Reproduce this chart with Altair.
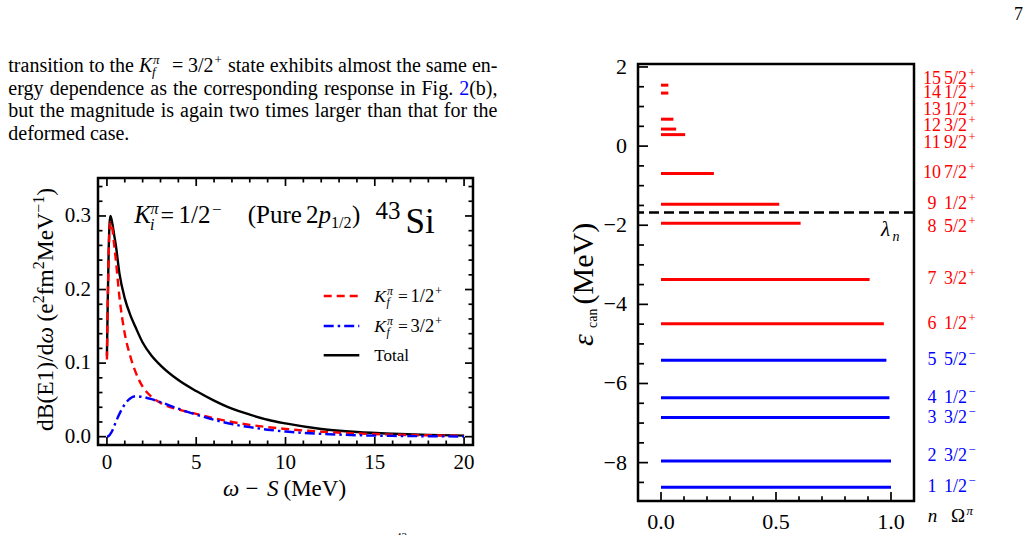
import altair as alt
import pandas as pd

SERIF = "Liberation Serif"
RED, BLUE, BLACK = "#ff0000", "#0000ff", "#000000"

# ---------------- E1 strength distribution, 43Si (left panel) ----------------
omega = [0, 0.05, 0.1, 0.15, 0.2, 0.3, 0.4, 0.5, 0.7, 1.0, 1.3, 1.6, 2.0, 2.5,
         3.0, 4.0, 5.0, 6.0, 7.0, 8.0, 9.0, 10, 12, 14, 16, 18, 20]
db_total = [0.110, 0.190, 0.255, 0.290, 0.300, 0.290, 0.275, 0.260, 0.222, 0.188,
            0.166, 0.149, 0.128, 0.110, 0.097, 0.077, 0.062, 0.049, 0.038, 0.030,
            0.023, 0.018, 0.0105, 0.0064, 0.0040, 0.0024, 0.0015]
db_half_plus = [0.105, 0.185, 0.250, 0.283, 0.292, 0.283, 0.262, 0.240, 0.190, 0.140,
                0.110, 0.088, 0.068, 0.054, 0.046, 0.037, 0.031, 0.025, 0.020, 0.016,
                0.013, 0.0105, 0.0068, 0.0044, 0.0028, 0.0018, 0.0012]
db_three_half_plus = [0.0, 0.0003, 0.001, 0.0022, 0.004, 0.008, 0.014, 0.020, 0.031, 0.044,
                      0.052, 0.055, 0.054, 0.051, 0.047, 0.038, 0.030, 0.023, 0.017, 0.013,
                      0.0095, 0.007, 0.0038, 0.0020, 0.0011, 0.0006, 0.0003]

# ---------------- canonical single-particle levels (right panel) ----------------
level_n = list(range(1, 16))
level_omega = ["1/2", "3/2", "3/2", "1/2", "5/2", "1/2", "3/2", "5/2",
               "1/2", "7/2", "9/2", "3/2", "1/2", "1/2", "5/2"]
level_parity = ["-", "-", "-", "-", "-", "+", "+", "+", "+", "+", "+", "+", "+", "+", "+"]
level_energy = [-8.62, -7.96, -6.86, -6.36, -5.41, -4.49, -3.37, -1.95,
                -1.47, -0.69, 0.29, 0.43, 0.68, 1.34, 1.54]
level_occupation = [1.0, 1.0, 0.994, 0.993, 0.98, 0.969, 0.907, 0.607,
                    0.514, 0.23, 0.105, 0.066, 0.054, 0.032, 0.032]
fermi_energy = -1.68
# label shifts (MeV) that keep crowded level labels apart
label_nudge = [0, 0.12, 0, 0, 0, 0, 0, -0.10, 0, 0, -0.22, 0.07, 0.22, 0, 0.15]

# ---------------- tick values and labels ----------------
lx_ticks = [0, 5, 10, 15, 20]
lx_labels = ["0", "5", "10", "15", "20"]
ly_ticks = [0.0, 0.1, 0.2, 0.3]
ly_labels = ["0.0", "0.1", "0.2", "0.3"]
rx_ticks = [0.0, 0.5, 1.0]
rx_labels = ["0.0", "0.5", "1.0"]
ry_ticks = [-8, -6, -4, -2, 0, 2]
ry_labels = ["\u22128", "\u22126", "\u22124", "\u22122", "0", "2"]

# ---------------- geometry ----------------
L_W, L_H, L_TOP = 375, 381, 114          # left view; its frame starts L_TOP px down
R_W, R_H = 276, 437
L_XDOM, L_YDOM = [-0.5, 20.5], [-0.0113, 0.3516]
R_XDOM, R_YDOM = [-0.1, 1.1], [-8.97, 2.075]

lx = alt.Scale(domain=L_XDOM, nice=False, zero=False)
ly = alt.Scale(domain=L_YDOM, nice=False, zero=False, range=[L_H, L_TOP])
rx = alt.Scale(domain=R_XDOM, nice=False, zero=False)
ry = alt.Scale(domain=R_YDOM, nice=False, zero=False)

# ---------------- text helpers ----------------
ROMAN_W = {' ': 250, '(': 333, ')': 333, ',': 250, '-': 333, '.': 250, '/': 278,
           '=': 564, '+': 564, '\u2212': 564, 'ω': 686, 'π': 549, 'λ': 549,
           'ε': 439, 'Ω': 768,
           'A': 722, 'B': 667, 'C': 667, 'D': 722, 'E': 611, 'F': 556, 'G': 722,
           'H': 722, 'I': 333, 'J': 389, 'K': 722, 'L': 611, 'M': 889, 'N': 722,
           'O': 722, 'P': 556, 'Q': 722, 'R': 667, 'S': 556, 'T': 611, 'U': 722,
           'V': 722, 'W': 944, 'X': 722, 'Y': 722, 'Z': 611,
           'a': 444, 'b': 500, 'c': 444, 'd': 500, 'e': 444, 'f': 333, 'g': 500,
           'h': 500, 'i': 278, 'j': 278, 'k': 500, 'l': 278, 'm': 778, 'n': 500,
           'o': 500, 'p': 500, 'q': 500, 'r': 333, 's': 389, 't': 278, 'u': 500,
           'v': 500, 'w': 722, 'x': 500, 'y': 500, 'z': 444}
ITALIC_W = {'K': 667, 'S': 500, 'f': 278}


def text_width(s, size, italic=False):
    total = 0
    for ch in s:
        if italic and ch in ITALIC_W:
            total += ITALIC_W[ch]
        elif ch.isdigit():
            total += 500
        else:
            total += ROMAN_W.get(ch, 500)
    return total * size / 1000.0


def run(x, y, text, size, italic=False, color=BLACK):
    return {"x": x, "y": y, "text": text, "size": size,
            "style": "italic" if italic else "normal", "color": color}


def text_layers(rows, angle=0):
    df = pd.DataFrame(rows)
    layers = []
    for style in ("normal", "italic"):
        sub = df[df["style"] == style]
        if sub.empty:
            continue
        mark = dict(font=SERIF, fontStyle=style, align="left", baseline="alphabetic")
        if angle:
            mark["angle"] = angle
        layers.append(alt.Chart(sub).mark_text(**mark).encode(
            x=alt.X("x:Q", scale=None, axis=None),
            y=alt.Y("y:Q", scale=None, axis=None),
            text="text:N",
            size=alt.Size("size:Q", scale=None, legend=None),
            color=alt.Color("color:N", scale=None, legend=None),
        ))
    return layers


def rotated_runs(x_base, y_start, pieces):
    rows, y = [], y_start
    for text, size, italic, rise, extra in pieces:
        rows.append(run(x_base - rise, y, text, size, italic))
        y -= text_width(text, size, italic) + extra
    return rows


def x_tick_labels(values, labels, scale, y, size):
    df = pd.DataFrame({"v": values, "label": labels})
    return alt.Chart(df).mark_text(font=SERIF, fontSize=size, align="center",
                                   baseline="top", color=BLACK).encode(
        x=alt.X("v:Q", scale=scale, axis=None), y=alt.value(y), text="label:N")


def y_tick_labels(values, labels, scale, x, size):
    df = pd.DataFrame({"v": values, "label": labels})
    return alt.Chart(df).mark_text(font=SERIF, fontSize=size, align="right",
                                   baseline="middle", color=BLACK).encode(
        y=alt.Y("v:Q", scale=scale, axis=None), x=alt.value(x), text="label:N")


# ---------------- paragraph above the left panel ----------------
PARA_FS = 20
PARA_LEFT, PARA_RIGHT = -89.7, 399.5
PARA_BASE = [8.0, 30.5, 53.0, 75.7]


def plain(word, color=BLACK):
    return ([{"dx": 0, "text": word, "size": PARA_FS, "rise": 0, "italic": False, "color": color}],
            text_width(word, PARA_FS))


k_state = ([
    {"dx": 0, "text": "K", "size": PARA_FS, "rise": 0, "italic": True, "color": BLACK},
    {"dx": 14, "text": "π", "size": 13, "rise": 8, "italic": True, "color": BLACK},
    {"dx": 13, "text": "f", "size": 13, "rise": -4, "italic": True, "color": BLACK},
    {"dx": 33, "text": "=", "size": PARA_FS, "rise": 0, "italic": False, "color": BLACK},
    {"dx": 49, "text": "3/2", "size": PARA_FS, "rise": 0, "italic": False, "color": BLACK},
    {"dx": 75.5, "text": "+", "size": 13, "rise": 8, "italic": False, "color": BLACK},
], 84.0)

fig_ref = ([
    {"dx": 0, "text": "2", "size": PARA_FS, "rise": 0, "italic": False, "color": BLUE},
    {"dx": text_width("2", PARA_FS), "text": "(b),", "size": PARA_FS, "rise": 0,
     "italic": False, "color": BLACK},
], text_width("2(b),", PARA_FS))

para_lines = [
    ([plain(w) for w in ["transition", "to", "the"]] + [k_state] +
     [plain(w) for w in ["state", "exhibits", "almost", "the", "same", "en-"]], True),
    ([plain(w) for w in ["ergy", "dependence", "as", "the", "corresponding",
                         "response", "in", "Fig."]] + [fig_ref], True),
    ([plain(w) for w in ["but", "the", "magnitude", "is", "again", "two", "times",
                         "larger", "than", "that", "for", "the"]], True),
    ([plain(w) for w in ["deformed", "case."]], False),
]

left_rows = []
for (words, justify), base in zip(para_lines, PARA_BASE):
    widths = sum(w for _, w in words)
    gap = (PARA_RIGHT - PARA_LEFT - widths) / (len(words) - 1) if justify else 0.25 * PARA_FS
    x = PARA_LEFT
    for runs, w in words:
        for r in runs:
            left_rows.append(run(x + r["dx"], base - r["rise"], r["text"], r["size"],
                                 r["italic"], r["color"]))
        x += w + gap

# in-panel title, nucleus and legend labels
left_rows += [
    run(36.3, 159.3, "K", 25, True), run(52.5, 150, "π", 16, True), run(52, 166, "i", 16, True),
    run(62.5, 159.3, "=", 24), run(80.5, 159.3, "1/2", 25), run(114, 151, "\u2212", 17),
    run(149.7, 159.3, "(Pure", 25), run(208, 159.3, "2", 25), run(220.5, 159.3, "p", 25, True),
    run(233, 164, "1/2", 16), run(254, 159.3, ")", 25),
    run(277.5, 155.3, "43", 25), run(307.5, 168.7, "Si", 35),
]
LEG_Y = [232, 262, 291.3]
for yc, rhs in zip(LEG_Y[:2], ["1/2", "3/2"]):
    b = yc + 5.5
    left_rows += [run(276.3, b, "K", 17.5, True), run(289, b - 6.5, "π", 12, True),
                  run(288.5, b + 4, "f", 12, True), run(300, b, "=", 17.5),
                  run(312.5, b, rhs, 18.5), run(337, b - 6.5, "+", 12.5)]
left_rows.append(run(276.3, LEG_Y[2] + 5.5, "Total", 17))
# x-axis title
left_rows += [run(125, 432, "ω", 23, True), run(147.5, 432, "\u2212", 23),
              run(169, 432, "S", 23, True), run(185.5, 432, "(MeV)", 23)]
# caption fragment at the page bottom
left_rows.append(run(298, 476, "43", 11))

left_rot = rotated_runs(-44.7, 367, [
    ("dB(E1)/d", 23.5, False, 0, 0), ("ω", 23.5, True, 0, 5.9), ("(e", 23.5, False, 0, 0),
    ("2", 16, False, 9.5, 0), ("fm", 23.5, False, 0, 0), ("2", 16, False, 9.5, 0),
    ("MeV", 23.5, False, 0, 0), ("\u22121", 16, False, 9.5, 0), (")", 23.5, False, 0, 0)])

# ---------------- left panel layers ----------------
TICK_W = 1.7


def edge_ticks_y(values, scale, x0, x1):
    return alt.Chart(pd.DataFrame({"v": values})).mark_rule(color=BLACK, strokeWidth=TICK_W).encode(
        y=alt.Y("v:Q", scale=scale, axis=None), x=alt.value(x0), x2=alt.value(x1))


def edge_ticks_x(values, scale, y0, y1):
    return alt.Chart(pd.DataFrame({"v": values})).mark_rule(color=BLACK, strokeWidth=TICK_W).encode(
        x=alt.X("v:Q", scale=scale, axis=None), y=alt.value(y0), y2=alt.value(y1))


def frame(xdom, ydom, xscale, yscale):
    df = pd.DataFrame({"x0": [xdom[0]], "x1": [xdom[1]], "y0": [ydom[0]], "y1": [ydom[1]]})
    return alt.Chart(df).mark_rect(filled=False, color=BLACK, strokeWidth=2.5).encode(
        x=alt.X("x0:Q", scale=xscale, axis=None), x2="x1:Q",
        y=alt.Y("y0:Q", scale=yscale, axis=None), y2="y1:Q")


lx_minor = [v for v in range(1, 20) if v % 5]
ly_minor = [round(0.02 * k, 2) for k in range(1, 18) if k % 5]

curve_df = pd.DataFrame({"omega": omega, "total": db_total,
                         "half": db_half_plus, "three_half": db_three_half_plus})


def curve(col, color, dash=None):
    kw = dict(color=color, strokeWidth=2.4, interpolate="monotone")
    if dash:
        kw["strokeDash"] = dash
    return alt.Chart(curve_df).mark_line(**kw).encode(
        x=alt.X("omega:Q", scale=lx, axis=None), y=alt.Y(f"{col}:Q", scale=ly, axis=None))


DASH_RED, DASH_BLUE = [8, 5], [10, 4, 2.5, 4]


def legend_line(y, color, dash=None):
    kw = dict(color=color, strokeWidth=2.4)
    if dash:
        kw["strokeDash"] = dash
    return alt.Chart(pd.DataFrame({"k": [0]})).mark_rule(**kw).encode(
        x=alt.value(225.7), x2=alt.value(261.3), y=alt.value(y))


left_layers = [
    frame(L_XDOM, L_YDOM, lx, ly),
    edge_ticks_x(lx_ticks, lx, L_H, L_H - 8), edge_ticks_x(lx_minor, lx, L_H, L_H - 4.5),
    edge_ticks_x(lx_ticks, lx, L_TOP, L_TOP + 8), edge_ticks_x(lx_minor, lx, L_TOP, L_TOP + 4.5),
    edge_ticks_y(ly_ticks, ly, 0, 8), edge_ticks_y(ly_minor, ly, 0, 4.5),
    edge_ticks_y(ly_ticks, ly, L_W, L_W - 8), edge_ticks_y(ly_minor, ly, L_W, L_W - 4.5),
    x_tick_labels(lx_ticks, lx_labels, lx, L_H + 7, 21),
    y_tick_labels(ly_ticks, ly_labels, ly, -7, 21),
    curve("total", BLACK), curve("half", RED, DASH_RED), curve("three_half", BLUE, DASH_BLUE),
    legend_line(LEG_Y[0], RED, DASH_RED), legend_line(LEG_Y[1], BLUE, DASH_BLUE),
    legend_line(LEG_Y[2], BLACK),
] + text_layers(left_rows) + text_layers(left_rot, angle=270)

left = alt.layer(*left_layers).properties(width=L_W, height=L_H)

# ---------------- right panel layers ----------------
levels = pd.DataFrame({
    "n": [str(v) for v in level_n], "omega": level_omega, "parity": level_parity,
    "E": level_energy, "occ": level_occupation,
})
levels["start"] = 0.0
levels["label_E"] = [e + d for e, d in zip(level_energy, label_nudge)]
levels["sign"] = ["+" if p == "+" else "\u2212" for p in level_parity]
parity_color = alt.Color("parity:N", scale=alt.Scale(domain=["+", "-"], range=[RED, BLUE]),
                         legend=None)

ry_minor = [-8.5 + 0.5 * k for k in range(21) if (-8.5 + 0.5 * k) not in ry_ticks]
rx_minor = [0.1, 0.2, 0.3, 0.4, 0.6, 0.7, 0.8, 0.9]

level_rules = alt.Chart(levels).mark_rule(strokeWidth=3).encode(
    x=alt.X("start:Q", scale=rx, axis=None), x2="occ:Q",
    y=alt.Y("E:Q", scale=ry, axis=None), color=parity_color)
fermi = alt.Chart(pd.DataFrame({"E": [fermi_energy]})).mark_rule(
    color=BLACK, strokeWidth=2.6, strokeDash=[10, 5]).encode(y=alt.Y("E:Q", scale=ry, axis=None))


def level_text(field, x, align, size, dy=0):
    kw = dict(font=SERIF, fontSize=size, align=align, baseline="middle")
    if dy:
        kw["dy"] = dy
    return alt.Chart(levels).mark_text(**kw).encode(
        x=alt.value(x), y=alt.Y("label_E:Q", scale=ry, axis=None),
        text=f"{field}:N", color=parity_color)


right_rows = [
    run(376, -43.7, "7", 18),
    run(243, 172, "λ", 21, True), run(254.5, 177, "n", 14, True),
    run(289.7, 458, "n", 19, True), run(313, 458, "Ω", 19), run(328.5, 451, "π", 13, True),
]
right_rot = [run(-45, 282, "ε", 30, True), run(-41.5, 264, "can", 14),
             run(-45, 240.5, "(MeV)", 30)]

right_layers = [
    frame(R_XDOM, R_YDOM, rx, ry),
    edge_ticks_y(ry_ticks, ry, 0, 10), edge_ticks_y(ry_minor, ry, 0, 6),
    edge_ticks_x(rx_ticks, rx, R_H, R_H - 9), edge_ticks_x(rx_minor, rx, R_H, R_H - 4.7),
    x_tick_labels(rx_ticks, rx_labels, rx, R_H + 11, 22),
    y_tick_labels(ry_ticks, ry_labels, ry, -11, 22),
    level_rules, fermi,
    level_text("n", 294, "center", 18), level_text("omega", 306, "left", 18),
    level_text("sign", 330.5, "left", 12.5, dy=-6),
] + text_layers(right_rows) + text_layers(right_rot, angle=270)

right = alt.layer(*right_layers).properties(width=R_W, height=R_H)

chart = alt.hconcat(left, right, spacing=165, bounds="flush").properties(
    padding={"left": 7, "top": 5, "right": 2, "bottom": 0}
).configure_view(stroke="transparent")

chart.save("out.html", embed_options={"renderer": "svg", "actions": False})
